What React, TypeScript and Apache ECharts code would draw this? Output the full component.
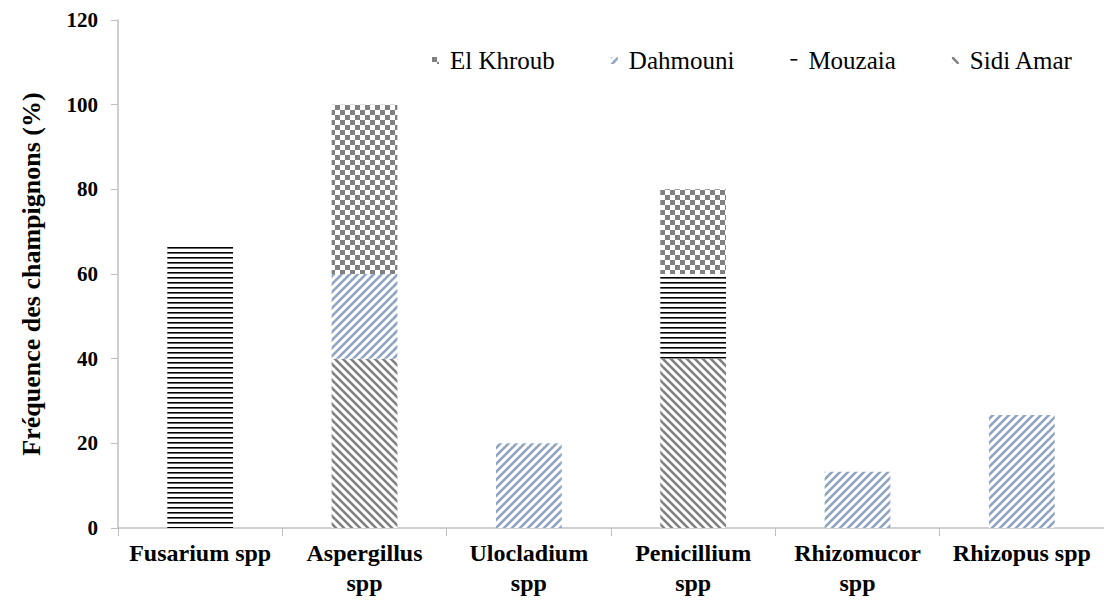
import React, { useEffect, useRef } from "react";
import * as echarts from "echarts";

const categories = [
  "Fusarium spp",
  "Aspergillus\nspp",
  "Ulocladium\nspp",
  "Penicillium\nspp",
  "Rhizomucor\nspp",
  "Rhizopus spp",
];
const sidiAmar = [null, 40, null, 40, null, null];
const mouzaia = [66.7, null, null, 20, null, null];
const dahmouni = [null, 20, 20, null, 13.3, 26.7];
const elKhroub = [null, 40, null, 20, null, null];
const legendOrder = ["El Khroub", "Dahmouni", "Mouzaia", "Sidi Amar"];
const yTicks = { min: 0, max: 120, interval: 20 };

function makeCanvas(w: number, h: number, draw: (c: CanvasRenderingContext2D) => void) {
  const cv = document.createElement("canvas");
  cv.width = w;
  cv.height = h;
  const ctx = cv.getContext("2d")!;
  ctx.fillStyle = "#ffffff";
  ctx.fillRect(0, 0, w, h);
  draw(ctx);
  return cv;
}

function checker() {
  return makeCanvas(10, 10, (c) => {
    c.fillStyle = "#808080";
    c.fillRect(0, 0, 5, 5);
    c.fillRect(5, 5, 5, 5);
  });
}

function diag(color: string, forward: boolean) {
  const s = 8;
  return makeCanvas(s, s, (c) => {
    c.strokeStyle = color;
    c.lineWidth = 2.6;
    const segs = forward
      ? [
          [-2, s + 2, s + 2, -2],
          [-2, 2, 2, -2],
          [s - 2, s + 2, s + 2, s - 2],
        ]
      : [
          [-2, -2, s + 2, s + 2],
          [s - 2, -2, s + 2, 2],
          [-2, s - 2, 2, s + 2],
        ];
    segs.forEach(([a, b, d, e]) => {
      c.beginPath();
      c.moveTo(a, b);
      c.lineTo(d, e);
      c.stroke();
    });
  });
}

function hlines() {
  return makeCanvas(8, 5, (c) => {
    c.fillStyle = "#000000";
    c.fillRect(0, 2, 8, 1.6);
  });
}

export default function App() {
  const ref = useRef<HTMLDivElement>(null);
  useEffect(() => {
    if (!ref.current) return;
    const chart = echarts.init(ref.current, undefined, { renderer: "svg" });
    const pat = (img: HTMLCanvasElement) => ({ image: img, repeat: "repeat" } as any);
    const font = "Liberation Serif";
    const mk = (name: string, data: (number | null)[], color: any) => ({
      name,
      type: "bar",
      stack: "total",
      barWidth: "40%",
      data,
      itemStyle: { color },
    });
    chart.setOption({
      animation: false,
      backgroundColor: "#ffffff",
      textStyle: { fontFamily: font },
      grid: { left: 118, top: 20, bottom: 73, right: -3, containLabel: false },
      legend: {
        data: legendOrder,
        left: 427,
        top: 43,
        itemWidth: 7,
        itemHeight: 7,
        itemGap: 56,
        icon: "rect",
        textStyle: { fontFamily: font, fontSize: 25, color: "#000", padding: [0, 0, 0, 6] },
      },
      xAxis: {
        type: "category",
        data: categories,
        axisLine: { lineStyle: { color: "#BFBFBF", width: 1.5 } },
        axisTick: { show: true, length: 8, lineStyle: { color: "#BFBFBF" } },
        axisLabel: {
          interval: 0,
          margin: 10,
          fontFamily: font,
          fontSize: 24,
          fontWeight: "bold",
          color: "#000",
          lineHeight: 30,
        },
      },
      yAxis: {
        type: "value",
        min: yTicks.min,
        max: yTicks.max,
        interval: yTicks.interval,
        name: "Fréquence des champignons (%)",
        nameLocation: "middle",
        nameGap: 74,
        nameTextStyle: { fontFamily: font, fontSize: 26, fontWeight: "bold", color: "#000" },
        axisLine: { show: true, lineStyle: { color: "#BFBFBF", width: 1.5 } },
        axisTick: { show: true, length: 7, lineStyle: { color: "#BFBFBF" } },
        splitLine: { show: false },
        axisLabel: {
          margin: 20,
          fontFamily: font,
          fontSize: 21,
          fontWeight: "bold",
          color: "#000",
        },
      },
      series: [
        mk("Sidi Amar", sidiAmar, pat(diag("#808080", false))),
        mk("Mouzaia", mouzaia, pat(hlines())),
        mk("Dahmouni", dahmouni, pat(diag("#8EA4C2", true))),
        mk("El Khroub", elKhroub, pat(checker())),
      ],
    });
    return () => chart.dispose();
  }, []);
  return (
    <div
      ref={ref}
      style={{ position: "fixed", left: 0, top: 0, width: 1104, height: 601, background: "#fff" }}
    />
  );
}
